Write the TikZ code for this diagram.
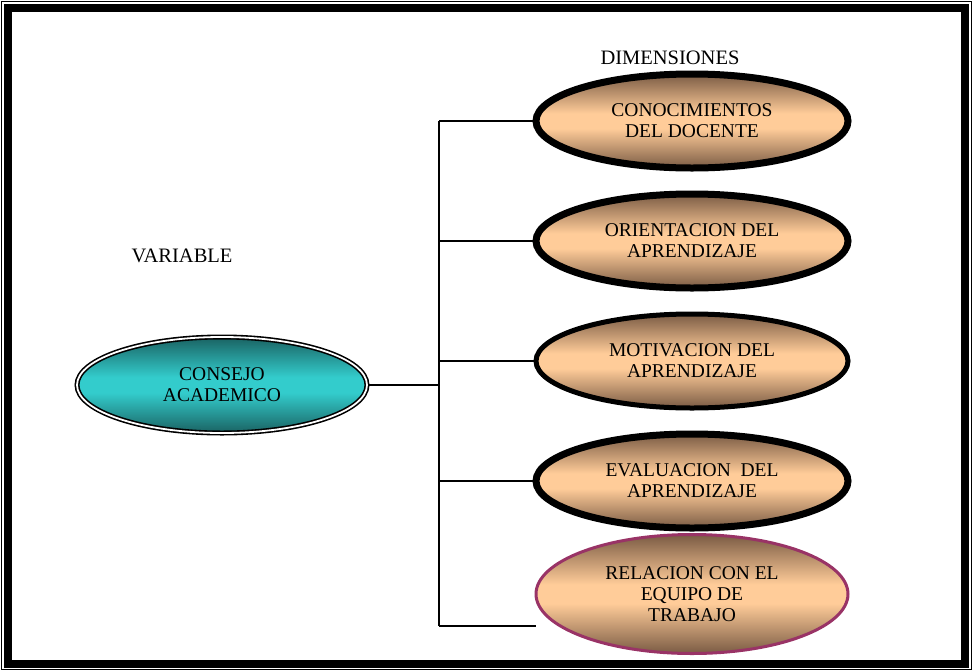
\documentclass[tikz,border=0pt]{standalone}
\usepackage{fontspec}
\setmainfont{Liberation Serif}
\usetikzlibrary{shapes.geometric}
\definecolor{peach}{HTML}{FFCC99}
\definecolor{peachdark}{HTML}{7A5B44}
\definecolor{teal1}{HTML}{33CCCC}
\definecolor{teal2}{HTML}{1A6262}
\definecolor{plum}{HTML}{993366}
% soft vertical fills: dark rims, light band in the middle
\pgfdeclareverticalshading{peachfill}{100bp}{color(0bp)=(peachdark); color(25bp)=(peachdark);
  color(46bp)=(peach); color(54bp)=(peach); color(75bp)=(peachdark); color(100bp)=(peachdark)}
\pgfdeclareverticalshading{tealfill}{100bp}{color(0bp)=(teal2); color(25bp)=(teal2);
  color(46bp)=(teal1); color(54bp)=(teal1); color(75bp)=(teal2); color(100bp)=(teal2)}
\tikzset{
  dimbox/.style={ellipse, inner sep=0pt, minimum width=312pt, minimum height=94pt,
    draw=black, line width=7pt, shading=peachfill, align=center,
    font=\fontsize{19.5}{21}\selectfont},
  varbox/.style={ellipse, inner sep=0pt, minimum width=290pt, minimum height=96pt,
    draw=black, line width=1.6pt, double=white, double distance=1.8pt,
    shading=tealfill, align=center, font=\fontsize{19.5}{21}\selectfont},
  wire/.style={line width=1.6pt, draw=black},
  caption/.style={font=\fontsize{20.5}{22}\selectfont, inner sep=0pt}
}
\begin{document}
\begin{tikzpicture}[x=1pt, y=-1pt]
\useasboundingbox (0,0) rectangle (972,670);
% page frame: thin outer rule and heavy inner band
\draw[line width=1pt] (1,1) rectangle (971,669);
\draw[line width=8pt] (8,8) rectangle (964.5,663.5);

% labels
\node[caption] (lbldim) at (670,58) {DIMENSIONES};
\node[caption] (lblvar) at (182,256) {VARIABLE};

% spine coordinates
\coordinate (spinetop) at (439,121);
\coordinate (spinebot) at (439,626);
\coordinate (tail) at (536,626);
\coordinate (hub) at (439,385);

% variable
\node[varbox] (var) at (222,385) {CONSEJO\\ACADEMICO};

% dimensions
\node[dimbox] (d1) at (692,121) {CONOCIMIENTOS\\DEL DOCENTE};
\node[dimbox] (d2) at (692,241) {ORIENTACION DEL\\APRENDIZAJE};
\node[dimbox, line width=5pt] (d3) at (692,361) {MOTIVACION DEL\\APRENDIZAJE};
\node[dimbox] (d4) at (692,481) {EVALUACION\ \ DEL\\APRENDIZAJE};
\node[dimbox, draw=plum, line width=3pt, minimum height=119pt] (d5) at (692,594)
  {RELACION CON EL\\EQUIPO DE\\TRABAJO};

% connectors
\draw[wire] (var.east) -- (hub);
\draw[wire] (spinetop) -- (spinebot);
\draw[wire] (spinetop) -- (d1.west);
\draw[wire] (d2.west -| spinetop) -- (d2.west);
\draw[wire] (d3.west -| spinetop) -- (d3.west);
\draw[wire] (d4.west -| spinetop) -- (d4.west);
\draw[wire] (spinebot) -- (tail);
\end{tikzpicture}
\end{document}
